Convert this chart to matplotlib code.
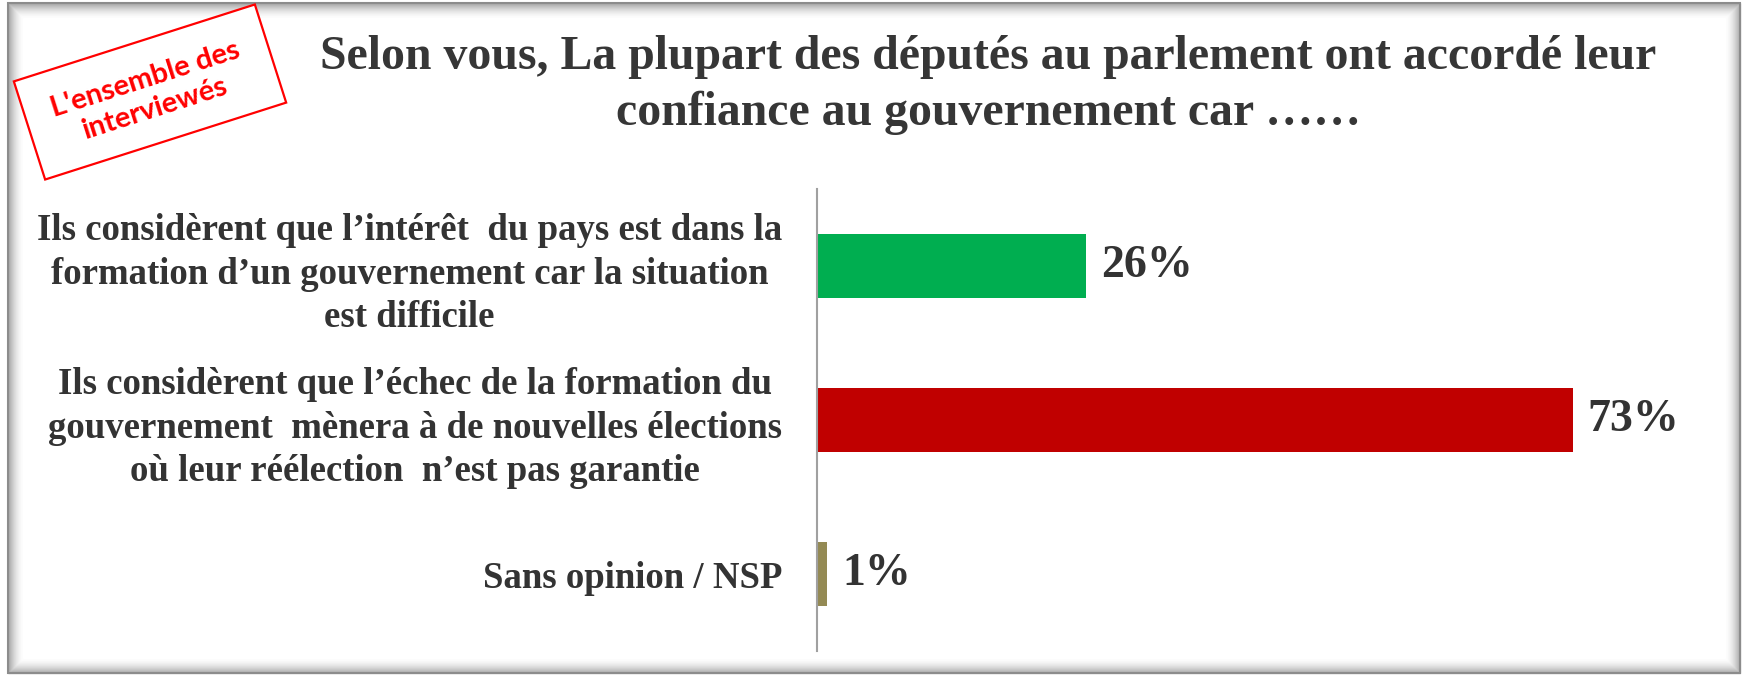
import matplotlib
matplotlib.use("Agg")
import matplotlib.pyplot as plt
from matplotlib.patches import Rectangle

# ---- data ----
categories = [
    "Ils considèrent que l’intérêt  du pays est dans la\nformation d’un gouvernement car la situation\nest difficile",
    "Ils considèrent que l’échec de la formation du\ngouvernement  mènera à de nouvelles élections\noù leur réélection  n’est pas garantie",
    "Sans opinion / NSP",
]
values = [26, 73, 1]
value_labels = ["26%", "73%", "1%"]
bar_colors = ["#00AE50", "#C00000", "#948A54"]
title = "Selon vous, La plupart des députés au parlement ont accordé leur\nconfiance au gouvernement car ……"
stamp_text = "L'ensemble des\ninterviewés"

W, H = 1744, 677
fig = plt.figure(figsize=(W / 100, H / 100), dpi=100)
fig.patch.set_facecolor("white")

# background overlay in pixel coordinates (y up)
bg = fig.add_axes([0, 0, 1, 1], zorder=0)
bg.set_xlim(0, W)
bg.set_ylim(0, H)
bg.axis("off")

# frame with inner shadow
x0, x1 = 8, 1740
y0, y1 = H - 673, H - 3
n = 16
for i in range(n):
    a = 0.38 * (1 - i / n) ** 2
    bg.add_patch(Rectangle((x0 + i, y0 + i), (x1 - x0) - 2 * i, (y1 - y0) - 2 * i,
                           fill=False, edgecolor="#404040", alpha=a, linewidth=1.0))
bg.add_patch(Rectangle((x0, y0), x1 - x0, y1 - y0, fill=False,
                       edgecolor="#8c8c8c", linewidth=1.5))

# stamp
cx, cy = 150, H - 92
sw, sh = 253, 103
ang = 17.7
bg.add_patch(Rectangle((cx - sw / 2, cy - sh / 2), sw, sh, angle=ang,
                       rotation_point="center", facecolor="white",
                       edgecolor="#FF0000", linewidth=1.6, zorder=5))
bg.text(cx, cy - 2, stamp_text, rotation=ang, rotation_mode="anchor",
        ha="center", va="center", multialignment="center",
        color="#FF0000", fontsize=21, fontweight="bold", family="Lato",
        linespacing=1.2, zorder=6)

# title
fig.text(988 / W, 1 - 35 / H, title, ha="center", va="top",
         multialignment="center", fontsize=34.4, fontweight="bold",
         family="Liberation Serif", color="#363636", linespacing=1.33)

# main axes
px_per = 10.35
xmax = 80
ax = fig.add_axes([817 / W, 26 / H, xmax * px_per / W, 462 / H], zorder=1)
ax.patch.set_alpha(0)
ypos = list(range(len(categories)))
ax.barh(ypos, values, height=0.42, color=bar_colors)
ax.set_xlim(0, xmax)
ax.set_ylim(2.5, -0.5)
for y, v, lab in zip(ypos, values, value_labels):
    ax.annotate(lab, (v, y), xytext=(15, 0), textcoords="offset pixels",
                ha="left", va="center", fontsize=33, fontweight="bold",
                family="Liberation Serif", color="#333333")
ax.set_yticks(ypos)
ax.set_yticklabels(categories, fontsize=26.5, fontweight="bold",
                   family="Liberation Serif", color="#333333",
                   multialignment="center", linespacing=1.3)
ax.tick_params(axis="y", length=0, pad=25)
ax.set_xticks([])
for s in ["top", "right", "bottom"]:
    ax.spines[s].set_visible(False)
ax.spines["left"].set_color("#a0a0a0")
ax.spines["left"].set_linewidth(1.5)

fig.savefig("out.png", dpi=100, facecolor="white")
